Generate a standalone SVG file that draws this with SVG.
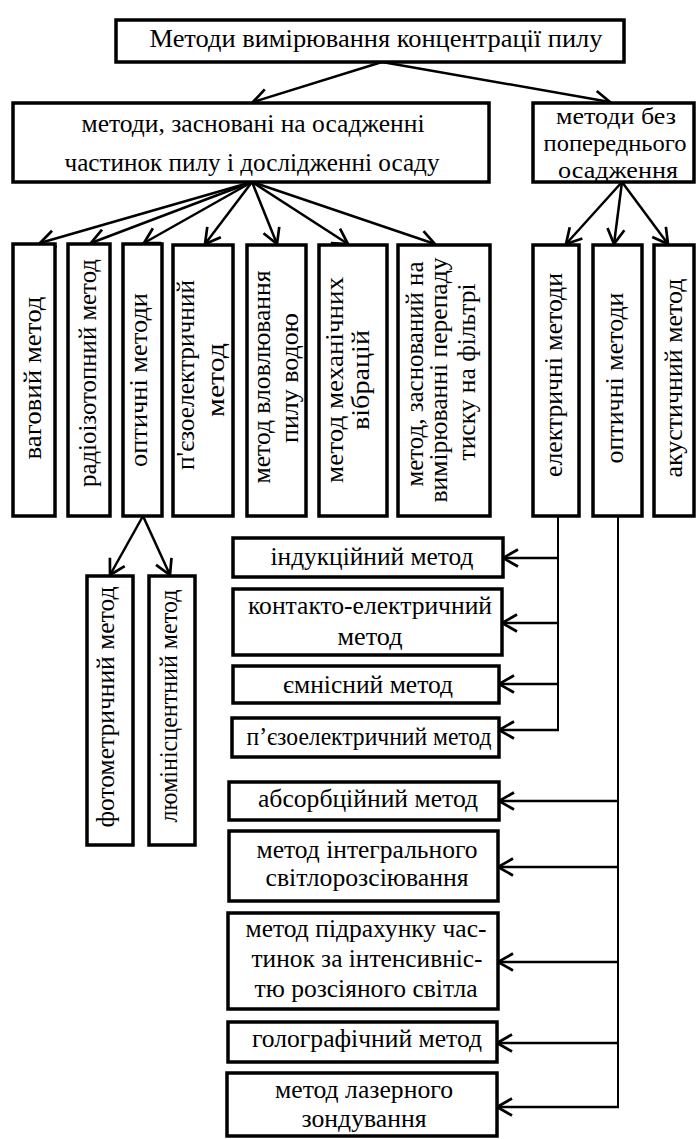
<svg xmlns="http://www.w3.org/2000/svg" width="697" height="1139" viewBox="0 0 697 1139">
<style>
.b{fill:#fff;stroke:#000;stroke-width:3.5}
.t{font-family:"Liberation Serif","Times New Roman",serif;font-size:26px;fill:#000;text-anchor:middle}
.s{font-size:23px}
.c{fill:none;stroke:#000;stroke-width:2.5}
.l{fill:none;stroke:#000;stroke-width:2}
</style>
<defs>
<marker id="ah" viewBox="-18 -11 21 22" refX="0" refY="0" markerWidth="21" markerHeight="22" orient="auto" markerUnits="userSpaceOnUse">
<path d="M-15,-8.5 L0,0 L-15,8.5" fill="none" stroke="#000" stroke-width="2.7"/>
</marker>
</defs>
<rect width="697" height="1139" fill="#fff"/>

<g id="connectors">
<line class="c" x1="382" y1="62" x2="253" y2="102" marker-end="url(#ah)"/>
<line class="c" x1="382" y1="62" x2="610" y2="102" marker-end="url(#ah)"/>
<line class="c" x1="252" y1="182" x2="40" y2="243" marker-end="url(#ah)"/>
<line class="c" x1="252" y1="182" x2="91" y2="243" marker-end="url(#ah)"/>
<line class="c" x1="252" y1="182" x2="144" y2="243" marker-end="url(#ah)"/>
<line class="c" x1="252" y1="182" x2="205" y2="244" marker-end="url(#ah)"/>
<line class="c" x1="252" y1="182" x2="277" y2="244" marker-end="url(#ah)"/>
<line class="c" x1="252" y1="182" x2="348" y2="244" marker-end="url(#ah)"/>
<line class="c" x1="252" y1="182" x2="435" y2="244" marker-end="url(#ah)"/>
<line class="c" x1="622" y1="182" x2="566" y2="244" marker-end="url(#ah)"/>
<line class="c" x1="622" y1="182" x2="614" y2="244" marker-end="url(#ah)"/>
<line class="c" x1="622" y1="182" x2="668" y2="244" marker-end="url(#ah)"/>
<line class="c" x1="143" y1="516" x2="110" y2="575" marker-end="url(#ah)"/>
<line class="c" x1="143" y1="516" x2="170" y2="575" marker-end="url(#ah)"/>
<polyline class="l" points="558,516 558,730"/>
<line class="c" x1="558" y1="558" x2="503" y2="558" marker-end="url(#ah)"/>
<line class="c" x1="558" y1="623" x2="502" y2="623" marker-end="url(#ah)"/>
<line class="c" x1="558" y1="684" x2="499" y2="684" marker-end="url(#ah)"/>
<line class="c" x1="559" y1="730" x2="499" y2="730" marker-end="url(#ah)"/>
<polyline class="l" points="618,516 618,1107"/>
<line class="c" x1="618" y1="801" x2="499" y2="801" marker-end="url(#ah)"/>
<line class="c" x1="618" y1="867" x2="498" y2="867" marker-end="url(#ah)"/>
<line class="c" x1="618" y1="962" x2="498" y2="962" marker-end="url(#ah)"/>
<line class="c" x1="618" y1="1043" x2="497" y2="1043" marker-end="url(#ah)"/>
<line class="c" x1="619" y1="1107" x2="497" y2="1107" marker-end="url(#ah)"/>
</g>

<g id="root"><rect class="b" x="116" y="20" width="508" height="42"/>
<text class="t" x="376" y="47" textLength="453" lengthAdjust="spacingAndGlyphs">Методи вимірювання концентрації пилу</text></g>

<g id="sediment"><rect class="b" x="13" y="103" width="476" height="79"/>
<text class="t" x="253" y="132" textLength="343" lengthAdjust="spacingAndGlyphs">методи, засновані на осадженні</text>
<text class="t" x="252" y="171" textLength="375" lengthAdjust="spacingAndGlyphs">частинок пилу і дослідженні осаду</text></g>

<g id="nosediment"><rect class="b" x="533" y="103" width="161" height="79"/>
<text class="t s" x="616" y="124" textLength="120" lengthAdjust="spacingAndGlyphs">методи без</text>
<text class="t s" x="615" y="151" textLength="143" lengthAdjust="spacingAndGlyphs">попереднього</text>
<text class="t s" x="618" y="178" textLength="120" lengthAdjust="spacingAndGlyphs">осадження</text></g>

<g id="v1"><rect class="b" x="13" y="244" width="42" height="272"/>
<text class="t" transform="translate(41,378) rotate(-90)" textLength="163" lengthAdjust="spacingAndGlyphs">ваговий метод</text></g>
<g id="v2"><rect class="b" x="68" y="244" width="42" height="272"/>
<text class="t" transform="translate(96,373) rotate(-90)" textLength="228" lengthAdjust="spacingAndGlyphs">радіоізотопний метод</text></g>
<g id="v3"><rect class="b" x="123" y="244" width="39" height="272"/>
<text class="t" transform="translate(147,380) rotate(-90)" textLength="174" lengthAdjust="spacingAndGlyphs">оптичні методи</text></g>
<g id="v4"><rect class="b" x="173" y="245" width="60" height="271"/>
<text class="t" transform="translate(194,375) rotate(-90)" textLength="190" lengthAdjust="spacingAndGlyphs">п'єзоелектричний</text>
<text class="t" transform="translate(224,380) rotate(-90)" textLength="74" lengthAdjust="spacingAndGlyphs">метод</text></g>
<g id="v5"><rect class="b" x="247" y="245" width="59" height="271"/>
<text class="t" transform="translate(270,377) rotate(-90)" textLength="213" lengthAdjust="spacingAndGlyphs">метод вловлювання</text>
<text class="t" transform="translate(298,378) rotate(-90)" textLength="130" lengthAdjust="spacingAndGlyphs">пилу водою</text></g>
<g id="v6"><rect class="b" x="319" y="245" width="68" height="271"/>
<text class="t" transform="translate(343,380) rotate(-90)" textLength="206" lengthAdjust="spacingAndGlyphs">метод механічних</text>
<text class="t" transform="translate(369,380) rotate(-90)" textLength="100" lengthAdjust="spacingAndGlyphs">вібрацій</text></g>
<g id="v7"><rect class="b" x="398" y="245" width="92" height="271"/>
<text class="t" transform="translate(423,374) rotate(-90)" textLength="225" lengthAdjust="spacingAndGlyphs">метод, заснований на</text>
<text class="t" transform="translate(447,380) rotate(-90)" textLength="245" lengthAdjust="spacingAndGlyphs">вимірюванні перепаду</text>
<text class="t" transform="translate(475,372) rotate(-90)" textLength="177" lengthAdjust="spacingAndGlyphs">тиску на фільтрі</text></g>
<g id="v8"><rect class="b" x="533" y="245" width="46" height="271"/>
<text class="t" transform="translate(562,375) rotate(-90)" textLength="204" lengthAdjust="spacingAndGlyphs">електричні методи</text></g>
<g id="v9"><rect class="b" x="593" y="245" width="49" height="271"/>
<text class="t" transform="translate(623,378) rotate(-90)" textLength="171" lengthAdjust="spacingAndGlyphs">оптичні методи</text></g>
<g id="v10"><rect class="b" x="654" y="245" width="40" height="271"/>
<text class="t" transform="translate(682,378) rotate(-90)" textLength="199" lengthAdjust="spacingAndGlyphs">акустичний метод</text></g>

<g id="photo"><rect class="b" x="87" y="576" width="46" height="269"/>
<text class="t" transform="translate(114,707) rotate(-90)" textLength="241" lengthAdjust="spacingAndGlyphs">фотометричний метод</text></g>
<g id="lumin"><rect class="b" x="149" y="576" width="46" height="269"/>
<text class="t" transform="translate(177,706) rotate(-90)" textLength="233" lengthAdjust="spacingAndGlyphs">люмінісцентний метод</text></g>

<g id="e1"><rect class="b" x="233" y="538" width="270" height="39"/>
<text class="t" x="372" y="565" textLength="203" lengthAdjust="spacingAndGlyphs">індукційний метод</text></g>
<g id="e2"><rect class="b" x="233" y="589" width="269" height="66"/>
<text class="t" x="370" y="614" textLength="244" lengthAdjust="spacingAndGlyphs">контакто-електричний</text>
<text class="t" x="370" y="645" textLength="65" lengthAdjust="spacingAndGlyphs">метод</text></g>
<g id="e3"><rect class="b" x="233" y="666" width="266" height="37"/>
<text class="t" x="368" y="693" textLength="170" lengthAdjust="spacingAndGlyphs">ємнісний метод</text></g>
<g id="e4"><rect class="b" x="232" y="718" width="267" height="39"/>
<text class="t" x="369" y="745" textLength="245" lengthAdjust="spacingAndGlyphs">п’єзоелектричний метод</text></g>

<g id="o1"><rect class="b" x="229" y="782" width="270" height="38"/>
<text class="t" x="368" y="807" textLength="220" lengthAdjust="spacingAndGlyphs">абсорбційний метод</text></g>
<g id="o2"><rect class="b" x="229" y="831" width="269" height="70"/>
<text class="t" x="367" y="858" textLength="221" lengthAdjust="spacingAndGlyphs">метод інтегрального</text>
<text class="t" x="367" y="886" textLength="203" lengthAdjust="spacingAndGlyphs">світлорозсіювання</text></g>
<g id="o3"><rect class="b" x="228" y="913" width="270" height="96"/>
<text class="t" x="366" y="937" textLength="241" lengthAdjust="spacingAndGlyphs">метод підрахунку час-</text>
<text class="t" x="367" y="967" textLength="231" lengthAdjust="spacingAndGlyphs">тинок за інтенсивніс-</text>
<text class="t" x="366" y="997" textLength="223" lengthAdjust="spacingAndGlyphs">тю розсіяного світла</text></g>
<g id="o4"><rect class="b" x="228" y="1022" width="269" height="40"/>
<text class="t" x="367" y="1047" textLength="230" lengthAdjust="spacingAndGlyphs">голографічний метод</text></g>
<g id="o5"><rect class="b" x="227" y="1073" width="270" height="63"/>
<text class="t" x="364" y="1098" textLength="178" lengthAdjust="spacingAndGlyphs">метод лазерного</text>
<text class="t" x="364" y="1127" textLength="125" lengthAdjust="spacingAndGlyphs">зондування</text></g>
</svg>
